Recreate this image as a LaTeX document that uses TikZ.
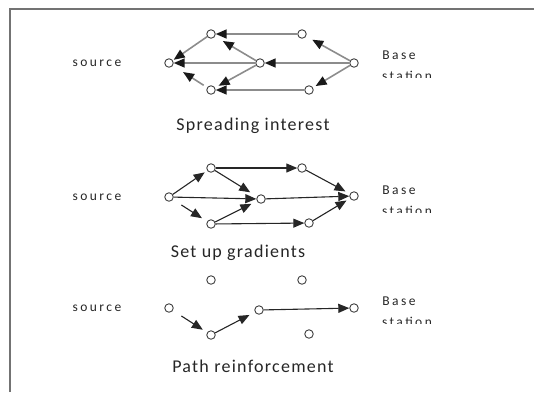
\documentclass[tikz,border=0pt]{standalone}
\usepackage{fontspec}
\usetikzlibrary{arrows.meta}
\newfontfamily\capfont[LetterSpace=7]{Carlito}
\newfontfamily\lblfont[LetterSpace=18]{Carlito}
\tikzset{
  sensor/.style={circle, draw=black!75, line width=0.9pt, fill=white,
                 inner sep=0pt, minimum size=8.5pt},
  flood/.style={draw=black!45, line width=1.6pt,
                -{Triangle[length=11pt,width=9pt,color=black!90,fill=black!90]}},
  grad/.style={draw=black!85, line width=1.1pt,
               -{Triangle[length=11pt,width=9pt]}, black!85},
  caption/.style={anchor=base, font=\capfont\fontsize{18}{20}\selectfont, text=black!85},
  srclbl/.style={font=\lblfont\fontsize{13.5}{15}\selectfont, text=black!85},
  baselbl/.style={font=\lblfont\fontsize{13.5}{15}\selectfont, text=black!85},
  frame/.style={draw=black!55, line width=1.5pt}
}
\begin{document}
\begin{tikzpicture}[x=1pt, y=-1pt]
\useasboundingbox (0,0) rectangle (534,392);
% open frame: left and top edges only
\draw[frame] (10,392) -- (10,9) -- (534,9);

% ---------- interest flooding ----------
\node[sensor] (aA) at (211,34) {};
\node[sensor] (aB) at (302,34) {};
\node[sensor] (aL) at (169,63) {};
\node[sensor] (aM) at (260,63) {};
\node[sensor] (aR) at (354,63) {};
\node[sensor] (aC) at (211,90) {};
\node[sensor] (aD) at (309,90) {};
\draw[flood] (aB) -- (aA);
\draw[flood, shorten >=1pt] (aA) -- (aL);
\draw[flood, shorten >=9pt] (aM) -- (aA);
\draw[flood] (aM) -- (aL);
\draw[flood] (aR) -- (aM);
\draw[flood, shorten >=7pt] (aR) -- (aB);
\draw[flood, shorten <=4pt, shorten >=12pt] (aC) -- (aL);
\draw[flood, shorten >=4pt] (aM) -- (aC);
\draw[flood] (aD) -- (aC);
\draw[flood, shorten >=3pt] (aR) -- (aD);
\node[srclbl] (aSrc) at (97,63) {source};
\node[baselbl] (aBase) at (399,55) {Base};
\begin{scope}
  \clip (370,66) rectangle (445,77.5);
  \node[baselbl] (aSta) at (407,76) {station};
\end{scope}
\node[caption] (aCap) at (253,130) {Spreading interest};

% ---------- gradient set-up ----------
\node[sensor] (bA) at (211,168) {};
\node[sensor] (bB) at (302,168) {};
\node[sensor] (bL) at (169,197) {};
\node[sensor] (bM) at (261,199) {};
\node[sensor] (bR) at (354,196) {};
\node[sensor] (bC) at (211,224) {};
\node[sensor] (bD) at (309,223) {};
\draw[grad, shorten >=3pt] (bL) -- (bA);
\draw[grad] (bA) -- (bB);
\draw[grad, shorten >=8pt] (bA) -- (bM);
\draw[grad] (bL) -- (bM);
\draw[grad, shorten >=5pt] (bB) -- (bR);
\draw[grad] (bM) -- (bR);
\draw[grad, shorten <=10pt, shorten >=6pt] (bL) -- (bC);
\draw[grad, shorten >=6pt] (bC) -- (bM);
\draw[grad] (bC) -- (bD);
\draw[grad, shorten >=4pt] (bD) -- (bR);
\node[srclbl] (bSrc) at (97,197) {source};
\node[baselbl] (bBase) at (399,190) {Base};
\begin{scope}
  \clip (370,201) rectangle (445,212.5);
  \node[baselbl] (bSta) at (407,211) {station};
\end{scope}
\node[caption] (bCap) at (238,257) {Set up gradients};

% ---------- path reinforcement ----------
\node[sensor] (cA) at (211,280) {};
\node[sensor] (cB) at (302,280) {};
\node[sensor] (cL) at (169,308) {};
\node[sensor] (cM) at (259,310) {};
\node[sensor] (cR) at (354,308) {};
\node[sensor] (cC) at (211,335) {};
\node[sensor] (cD) at (309,334) {};
\draw[grad, shorten <=10pt, shorten >=5pt] (cL) -- (cC);
\draw[grad, shorten >=6pt] (cC) -- (cM);
\draw[grad] (cM) -- (cR);
\node[srclbl] (cSrc) at (97,308) {source};
\node[baselbl] (cBase) at (399,301) {Base};
\begin{scope}
  \clip (370,312) rectangle (445,323.5);
  \node[baselbl] (cSta) at (407,322) {station};
\end{scope}
\node[caption] (cCap) at (253,372) {Path reinforcement};
\end{tikzpicture}
\end{document}
